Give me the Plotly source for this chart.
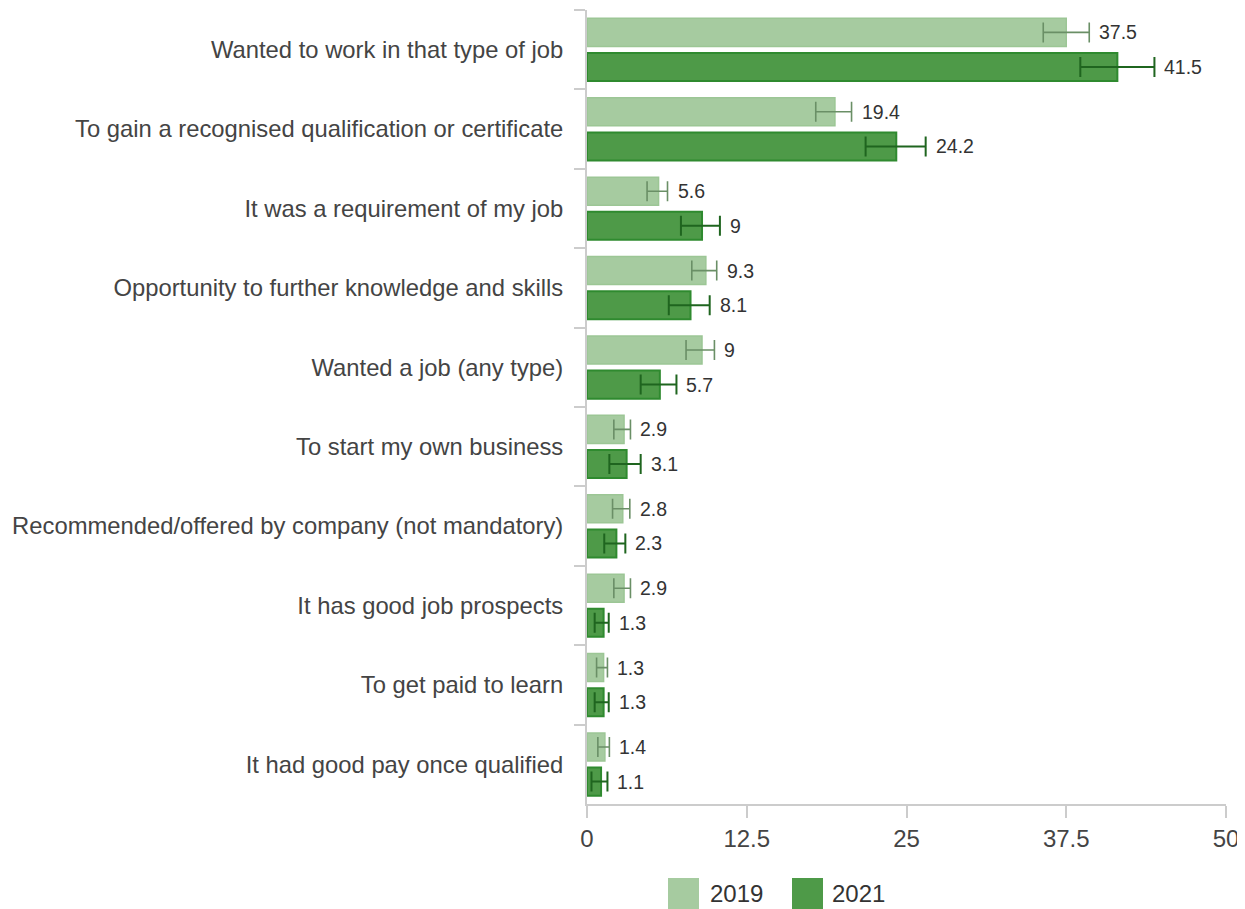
import plotly.graph_objects as go

categories = [
    "Wanted to work in that type of job",
    "To gain a recognised qualification or certificate",
    "It was a requirement of my job",
    "Opportunity to further knowledge and skills",
    "Wanted a job (any type)",
    "To start my own business",
    "Recommended/offered by company (not mandatory)",
    "It has good job prospects",
    "To get paid to learn",
    "It had good pay once qualified",
]
values_2019 = [37.5, 19.4, 5.6, 9.3, 9.0, 2.9, 2.8, 2.9, 1.3, 1.4]
low_2019 = [35.7, 17.9, 4.7, 8.2, 7.75, 2.1, 2.0, 2.1, 0.75, 0.85]
high_2019 = [39.3, 20.7, 6.3, 10.15, 9.97, 3.4, 3.35, 3.4, 1.6, 1.75]
values_2021 = [41.5, 24.2, 9.0, 8.1, 5.7, 3.1, 2.3, 1.3, 1.3, 1.1]
low_2021 = [38.6, 21.8, 7.35, 6.4, 4.2, 1.75, 1.35, 0.6, 0.6, 0.35]
high_2021 = [44.4, 26.5, 10.4, 9.6, 7.0, 4.2, 3.0, 1.7, 1.7, 1.6]
x_ticks = [0, 12.5, 25, 37.5, 50]
series_names = ["2019", "2021"]

FONT = "Liberation Sans, Arial, sans-serif"
OFF = 8  # page body margin
W, H = 1245 - OFF, 909 - OFF
L, T = 587 - OFF, 10 - OFF
R = 1245 - 1226
B = 909 - 804
BARGAP = 0.128
BARGROUPGAP = 0.19

fill = ["#a6cba0", "#4e9a48"]
line = ["#9cc695", "#2f8a2f"]
errc = ["#6a8f66", "#1f651f"]

fig = go.Figure()
series = [(values_2019, low_2019, high_2019), (values_2021, low_2021, high_2021)]
for i, (vals, lo, hi) in enumerate(series):
    fig.add_trace(go.Bar(
        name=series_names[i], y=categories, x=vals, orientation="h",
        marker=dict(color=fill[i], line=dict(color=line[i], width=2 if i else 1.5)),
        error_x=dict(type="data", symmetric=False,
                     array=[h - v for h, v in zip(hi, vals)],
                     arrayminus=[v - l for v, l in zip(vals, lo)],
                     color=errc[i], thickness=2 if i else 1.6, width=10),
        showlegend=False, hoverinfo="skip",
    ))

plot_h = H - T - B
plot_w = W - L - R
cat_px = plot_h / len(categories)
slot = cat_px * (1 - BARGAP) / 2
annotations = []
for i, (vals, lo, hi) in enumerate(series):
    ys = slot / 2 if i == 0 else -slot / 2
    for c, v, h in zip(categories, vals, hi):
        annotations.append(dict(
            x=h, y=c, xref="x", yref="y", text=f"{v:g}", showarrow=False,
            xanchor="left", yanchor="middle", xshift=8, yshift=ys,
            font=dict(family=FONT, size=19.5, color="#333333"),
        ))

# legend (bottom), positions given in screen pixels
def px_x(p):
    return (p - OFF - L) / plot_w
def px_y(p):
    return (H - B - (p - OFF)) / plot_h

shapes = []
leg = [(668, 708), (792, 830)]
for i, (sx, tx) in enumerate(leg):
    shapes.append(dict(type="rect", xref="paper", yref="paper",
                       x0=px_x(sx), x1=px_x(sx + 31), y0=px_y(878), y1=px_y(909),
                       fillcolor=fill[i], line=dict(width=0)))
    annotations.append(dict(x=px_x(tx), y=px_y(893), xref="paper", yref="paper",
                            text=series_names[i], showarrow=False, xanchor="left",
                            yanchor="middle",
                            font=dict(family=FONT, size=24, color="#333333")))

fig.update_layout(
    width=W, height=H,
    margin=dict(l=L, r=R, t=T, b=B),
    barmode="group", bargap=BARGAP, bargroupgap=BARGROUPGAP,
    plot_bgcolor="white", paper_bgcolor="white",
    font=dict(family=FONT, size=24, color="#444444"),
    annotations=annotations, shapes=shapes,
    xaxis=dict(range=[0, 50], tickvals=x_ticks, ticktext=[f"{t:g}" for t in x_ticks],
               showgrid=False, zeroline=False, showline=True, linecolor="#cccccc",
               linewidth=2, ticks="outside", ticklen=12, tickwidth=2, tickcolor="#cccccc",
               tickfont=dict(size=24, color="#444444")),
    yaxis=dict(categoryorder="array", categoryarray=categories, autorange="reversed",
               showgrid=False, zeroline=False, showline=True, linecolor="#cccccc",
               linewidth=2, ticks="outside", tickson="boundaries", ticklen=11,
               tickwidth=2, tickcolor="#cccccc",
               tickfont=dict(size=23.8, color="#444444"), ticklabelstandoff=17),
)

fig.write_html("out.html")
